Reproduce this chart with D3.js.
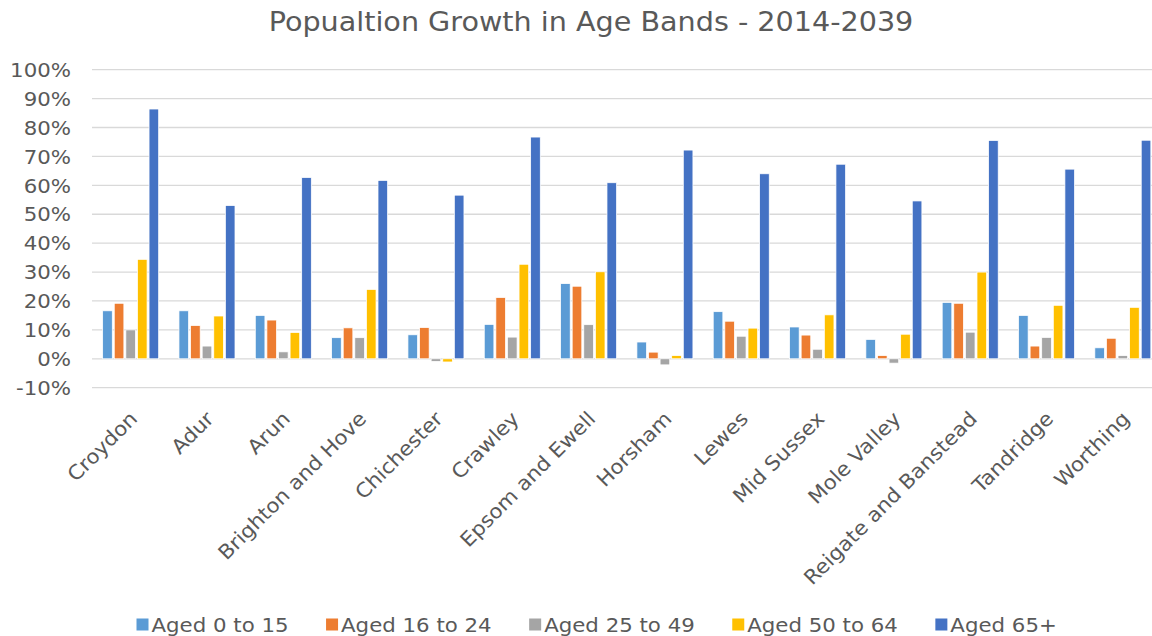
<!DOCTYPE html>
<html>
<head>
<meta charset="utf-8">
<script src="https://cdn.jsdelivr.net/npm/d3@7"></script>
<style>
  html, body { margin: 0; padding: 0; background: #ffffff; }
  svg { display: block; font-family: "DejaVu Sans", Verdana, sans-serif; }
</style>
</head>
<body>
<svg id="chart" width="1152" height="636"></svg>
<script>
// Local authorities on the x axis
const categories = ["Croydon", "Adur", "Arun", "Brighton and Hove", "Chichester", "Crawley",
  "Epsom and Ewell", "Horsham", "Lewes", "Mid Sussex", "Mole Valley",
  "Reigate and Banstead", "Tandridge", "Worthing"];

// Growth 2014-2039 per age band (fractions)
const aged0to15  = [0.166, 0.166, 0.150, 0.073, 0.083, 0.119, 0.260, 0.058, 0.163, 0.110, 0.067, 0.195, 0.150, 0.038];
const aged16to24 = [0.192, 0.115, 0.134, 0.107, 0.108, 0.212, 0.251, 0.023, 0.130, 0.082, 0.011, 0.192, 0.044, 0.071];
const aged25to49 = [0.100, 0.044, 0.024, 0.073, -0.009, 0.075, 0.118, -0.021, 0.078, 0.033, -0.015, 0.092, 0.074, 0.011];
const aged50to64 = [0.344, 0.148, 0.091, 0.240, -0.011, 0.327, 0.301, 0.011, 0.106, 0.152, 0.085, 0.300, 0.185, 0.178];
const aged65plus = [0.864, 0.530, 0.627, 0.617, 0.566, 0.767, 0.609, 0.722, 0.640, 0.673, 0.546, 0.755, 0.656, 0.756];

const seriesNames = ["Aged 0 to 15", "Aged 16 to 24", "Aged 25 to 49", "Aged 50 to 64", "Aged 65+"];
const seriesValues = [aged0to15, aged16to24, aged25to49, aged50to64, aged65plus];
const seriesColors = ["#5b9bd5", "#ed7d31", "#a5a5a5", "#ffc000", "#4472c4"];

const yTicks = [-0.1, 0, 0.1, 0.2, 0.3, 0.4, 0.5, 0.6, 0.7, 0.8, 0.9, 1.0];

const svg = d3.select("#chart");
const textColor = "#595959";
// Horizontal stretch applied to text so the glyphs get a wide, Verdana-like set
const stretch = 1.065;

const plot = { left: 92.5, right: 1161, top: 69.7, bottom: 387.7 };

const x = d3.scaleBand()
  .domain(categories)
  .range([plot.left, plot.right])
  .paddingInner(0.266)
  .paddingOuter(0.133);

const xs = d3.scaleBand()
  .domain(seriesNames)
  .range([0, x.bandwidth()])
  .paddingInner(0.17);

const y = d3.scaleLinear()
  .domain([-0.1, 1.0])
  .range([plot.bottom, plot.top]);

// Title
svg.append("text")
  .attr("transform", "translate(591,31) scale(1.08,1)")
  .attr("text-anchor", "middle")
  .attr("font-size", 26.5)
  .attr("fill", textColor)
  .text("Popualtion Growth in Age Bands - 2014-2039");

// Horizontal gridlines
svg.append("g")
  .selectAll("line")
  .data(yTicks)
  .join("line")
  .attr("x1", 92)
  .attr("x2", 1152)
  .attr("y1", d => y(d))
  .attr("y2", d => y(d))
  .attr("stroke", "#d9d9d9")
  .attr("stroke-width", 1.3);

// Y axis labels
svg.append("g")
  .selectAll("text")
  .data(yTicks)
  .join("text")
  .attr("transform", d => `translate(71,${y(d)}) scale(${stretch},1)`)
  .attr("dy", "0.36em")
  .attr("text-anchor", "end")
  .attr("font-size", 20)
  .attr("fill", textColor)
  .text(d => Math.round(d * 100) + "%");

// Bars
const groups = svg.append("g")
  .selectAll("g")
  .data(categories)
  .join("g")
  .attr("transform", d => `translate(${x(d)},0)`);

groups.selectAll("rect")
  .data((c, i) => seriesNames.map((s, k) => ({ series: s, value: seriesValues[k][i], color: seriesColors[k] })))
  .join("rect")
  .attr("x", d => xs(d.series))
  .attr("width", xs.bandwidth())
  .attr("y", d => y(Math.max(0, d.value)))
  .attr("height", d => Math.abs(y(d.value) - y(0)))
  .attr("fill", d => d.color)
  .attr("stroke", "#ffffff")
  .attr("stroke-width", 0.75);

// Category labels, rotated
svg.append("g")
  .selectAll("text")
  .data(categories)
  .join("text")
  .attr("transform", d => `translate(${x(d) + x.bandwidth() / 2 + 8},420) rotate(-45) scale(${stretch},1)`)
  .attr("text-anchor", "end")
  .attr("font-size", 20)
  .attr("fill", textColor)
  .text(d => d);

// Legend
const legend = svg.append("g");
const legendItems = legend.selectAll("g")
  .data(seriesNames)
  .join("g");
legendItems.append("rect")
  .attr("x", 0)
  .attr("y", 618.5)
  .attr("width", 12)
  .attr("height", 12)
  .attr("fill", (d, i) => seriesColors[i]);
legendItems.append("text")
  .attr("transform", `translate(15,631.5) scale(${stretch},1)`)
  .attr("font-size", 20)
  .attr("fill", textColor)
  .text(d => d);

let cursor = 136.5;
legendItems.each(function () {
  const g = d3.select(this);
  g.attr("transform", `translate(${cursor},0)`);
  const w = g.select("text").node().getComputedTextLength() * stretch;
  cursor += 15 + w + 37.5;
});
</script>
</body>
</html>
